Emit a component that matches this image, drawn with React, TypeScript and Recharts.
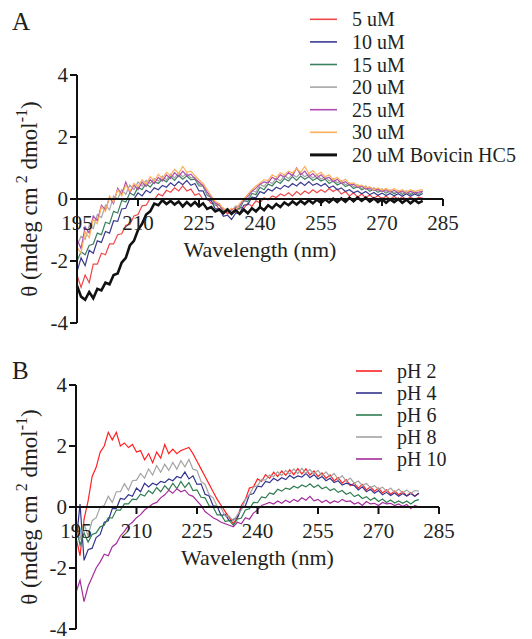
import { LineChart, Line, XAxis, YAxis, ReferenceLine, Legend } from "recharts";

const FONT = "Liberation Serif, Tinos, DejaVu Serif, Times New Roman, serif";
const INK = "#231f20";
const TXT = { fontFamily: FONT };

// wavelength grid (nm)
const WAVELENGTH = [
  195, 196, 197, 198, 199, 200, 201, 202, 203, 204,
  205, 206, 207, 208, 209, 210, 211, 212, 213, 214,
  215, 216, 217, 218, 219, 220, 221, 222, 223, 224,
  225, 226, 227, 228, 229, 230, 231, 232, 233, 234,
  235, 236, 237, 238, 239, 240, 241, 242, 243, 244,
  245, 246, 247, 248, 249, 250, 251, 252, 253, 254,
  255, 256, 257, 258, 259, 260, 261, 262, 263, 264,
  265, 266, 267, 268, 269, 270, 271, 272, 273, 274,
  275, 276, 277, 278, 279, 280,
];

const X_TICKS = [195, 210, 225, 240, 255, 270, 285];
const Y_TICKS = [-4, -2, 0, 2, 4];

// Panel A - concentration series
const A_5UM = [
  -2.45, -2.85, -2.45, -2.7, -2.1, -2.1, -1.75, -1.8, -1.45, -1.45,
  -1.15, -1.12, -0.85, -0.82, -0.55, -0.5, -0.22, -0.2, 0.02, -0.02,
  0.16, 0.1, 0.28, 0.22, 0.36, 0.26, 0.42, 0.26, 0.32, 0.12,
  0.18, -0.02, 0.02, -0.14, -0.14, -0.34, -0.3, -0.48, -0.4, -0.44,
  -0.26, -0.3, -0.14, -0.24, -0.06, -0.12, 0.04, -0.03, 0.1, 0.05,
  0.16, 0.1, 0.2, 0.1, 0.24, 0.14, 0.26, 0.18, 0.3, 0.2,
  0.3, 0.22, 0.34, 0.24, 0.32, 0.16, 0.24, 0.1, 0.2, 0.06,
  0.16, 0.04, 0.13, 0.02, 0.11, 0.01, 0.09, 0.0, 0.08, -0.01,
  0.07, -0.01, 0.06, -0.02, 0.05, 0.03,
];
const A_10UM = [
  -2.35, -1.9, -2.15, -1.65, -1.75, -1.35, -1.4, -1.05, -1.1, -0.7,
  -0.72, -0.32, -0.3, 0.02, 0.0, 0.2, 0.1, 0.28, 0.2, 0.36,
  0.3, 0.44, 0.38, 0.52, 0.42, 0.56, 0.46, 0.6, 0.44, 0.5,
  0.26, 0.26, -0.02, -0.05, -0.32, -0.32, -0.56, -0.52, -0.66, -0.46,
  -0.46, -0.2, -0.18, 0.06, 0.04, 0.24, 0.18, 0.32, 0.26, 0.38,
  0.32, 0.44, 0.38, 0.5, 0.42, 0.54, 0.44, 0.56, 0.44, 0.5,
  0.42, 0.5, 0.36, 0.42, 0.3, 0.36, 0.24, 0.3, 0.2, 0.26,
  0.17, 0.24, 0.14, 0.21, 0.12, 0.19, 0.11, 0.18, 0.1, 0.17,
  0.09, 0.17, 0.09, 0.16, 0.1, 0.18,
];
const A_15UM = [
  -2.0, -1.7, -1.8, -1.5, -1.45, -1.1, -1.15, -0.75, -0.8, -0.4,
  -0.45, -0.05, -0.1, 0.2, 0.12, 0.38, 0.3, 0.5, 0.38, 0.56,
  0.5, 0.64, 0.55, 0.72, 0.6, 0.76, 0.64, 0.74, 0.62, 0.64,
  0.42, 0.42, 0.12, 0.06, -0.2, -0.18, -0.42, -0.34, -0.46, -0.28,
  -0.32, -0.05, -0.08, 0.18, 0.14, 0.38, 0.3, 0.48, 0.42, 0.58,
  0.5, 0.66, 0.58, 0.72, 0.6, 0.74, 0.64, 0.72, 0.6, 0.68,
  0.58, 0.64, 0.5, 0.58, 0.45, 0.52, 0.4, 0.46, 0.34, 0.4,
  0.3, 0.36, 0.25, 0.32, 0.22, 0.28, 0.19, 0.26, 0.17, 0.24,
  0.15, 0.23, 0.14, 0.22, 0.15, 0.24,
];
const A_20UM = [
  -1.5, -1.2, -1.3, -0.85, -0.95, -0.5, -0.6, -0.2, -0.35, 0.1,
  0.0, 0.3, 0.15, 0.45, 0.3, 0.55, 0.42, 0.6, 0.5, 0.66,
  0.58, 0.74, 0.62, 0.8, 0.68, 0.84, 0.72, 0.82, 0.68, 0.7,
  0.48, 0.45, 0.14, 0.08, -0.18, -0.15, -0.38, -0.3, -0.4, -0.22,
  -0.25, 0.02, 0.0, 0.28, 0.22, 0.48, 0.4, 0.58, 0.5, 0.68,
  0.58, 0.76, 0.66, 0.8, 0.7, 0.84, 0.72, 0.8, 0.68, 0.78,
  0.64, 0.72, 0.58, 0.66, 0.52, 0.6, 0.46, 0.52, 0.4, 0.46,
  0.34, 0.42, 0.28, 0.36, 0.25, 0.33, 0.22, 0.3, 0.2, 0.28,
  0.18, 0.27, 0.18, 0.26, 0.17, 0.27,
];
const A_25UM = [
  -1.3, -1.6, -0.9, -1.1, -0.55, -0.7, -0.2, -0.35, 0.05, -0.15,
  0.35, 0.15, 0.55, 0.2, 0.45, 0.3, 0.55, 0.4, 0.62, 0.5,
  0.7, 0.58, 0.78, 0.66, 0.85, 0.72, 0.9, 0.75, 0.8, 0.65,
  0.55, 0.42, 0.22, 0.05, -0.12, -0.2, -0.35, -0.42, -0.35, -0.3,
  -0.2, -0.05, 0.1, 0.25, 0.35, 0.48, 0.55, 0.52, 0.7, 0.62,
  0.78, 0.7, 0.85, 0.75, 1.0, 0.78, 0.9, 0.72, 0.82, 0.68,
  0.78, 0.65, 0.7, 0.56, 0.64, 0.5, 0.56, 0.45, 0.48, 0.38,
  0.42, 0.32, 0.36, 0.28, 0.32, 0.24, 0.3, 0.22, 0.28, 0.2,
  0.26, 0.18, 0.25, 0.2, 0.22, 0.25,
];
const A_30UM = [
  -1.55, -1.75, -1.05, -1.25, -0.65, -0.8, -0.25, -0.4, 0.1, -0.1,
  0.3, 0.1, 0.45, 0.25, 0.5, 0.4, 0.62, 0.48, 0.72, 0.58,
  0.8, 0.66, 0.86, 0.76, 0.96, 0.82, 1.05, 0.86, 0.9, 0.75,
  0.62, 0.5, 0.3, 0.1, -0.08, -0.15, -0.32, -0.4, -0.3, -0.36,
  -0.15, 0.0, 0.15, 0.3, 0.42, 0.52, 0.62, 0.6, 0.78, 0.7,
  0.85, 0.78, 0.9, 0.84, 0.98, 0.86, 1.05, 0.82, 0.92, 0.78,
  0.86, 0.72, 0.78, 0.62, 0.7, 0.56, 0.64, 0.5, 0.52, 0.42,
  0.45, 0.36, 0.4, 0.3, 0.36, 0.28, 0.34, 0.26, 0.34, 0.24,
  0.3, 0.22, 0.3, 0.24, 0.28, 0.3,
];
const A_BOVICIN = [
  -2.8, -3.15, -3.25, -3.0, -3.2, -2.9, -2.95, -2.7, -2.75, -2.45,
  -2.4, -2.05, -1.9, -1.5, -1.35, -1.0, -0.8, -0.5, -0.4, -0.15,
  -0.2, -0.04, -0.16, -0.06, -0.18, -0.08, -0.24, -0.1, -0.22, -0.1,
  -0.24, -0.14, -0.32, -0.26, -0.4, -0.34, -0.46, -0.34, -0.48, -0.36,
  -0.48, -0.34, -0.46, -0.3, -0.4, -0.26, -0.36, -0.2, -0.3, -0.16,
  -0.26, -0.11, -0.2, -0.08, -0.18, -0.06, -0.16, -0.04, -0.14, -0.02,
  -0.12, -0.01, -0.11, 0.01, -0.1, 0.02, -0.09, 0.04, -0.07, 0.05,
  -0.06, 0.04, -0.08, 0.02, -0.1, 0.0, -0.12, -0.01, -0.1, 0.0,
  -0.12, -0.02, -0.14, -0.03, -0.13, -0.06,
];

// Panel B - pH series
const B_PH2 = [
  -1.0, -1.6, -0.4, 0.2, 1.0, 1.3, 1.8, 2.0, 2.45, 2.2,
  2.45, 2.0, 2.1, 1.95, 2.05, 1.8, 1.85, 1.55, 1.75, 1.45,
  1.8, 1.6, 2.05, 1.75, 1.9, 1.75, 1.85, 1.9, 1.95, 1.75,
  1.5, 1.25, 1.0, 0.75, 0.5, 0.25, 0.05, -0.15, -0.35, -0.55,
  -0.35, 0.05, 0.25, 0.62, 0.66, 0.92, 0.84, 1.06, 0.94, 1.14,
  1.0, 1.18, 1.04, 1.22, 1.06, 1.26, 1.08, 1.25, 1.05, 1.18,
  1.0, 1.12, 0.94, 1.05, 0.86, 0.96, 0.78, 0.9, 0.7, 0.78,
  0.62, 0.74, 0.56, 0.66, 0.52, 0.62, 0.46, 0.56, 0.42, 0.52,
  0.4, 0.5, 0.36, 0.47, 0.35, 0.44,
];
const B_PH4 = [
  -1.2, 0.1, -1.75, -1.4, -1.35, -1.0, -0.9, -0.5, -0.45, -0.05,
  -0.05, 0.28, 0.25, 0.4, 0.35, 0.62, 0.5, 0.78, 0.66, 0.78,
  0.72, 0.84, 0.8, 0.92, 0.86, 1.0, 0.95, 1.15, 0.92, 1.02,
  0.74, 0.76, 0.42, 0.36, 0.04, 0.02, -0.28, -0.24, -0.46, -0.4,
  -0.36, -0.05, 0.04, 0.4, 0.44, 0.68, 0.66, 0.84, 0.8, 0.94,
  0.86, 0.96, 0.9, 1.04, 0.94, 1.02, 0.98, 1.1, 0.96, 1.06,
  0.92, 1.0, 0.86, 0.94, 0.8, 0.86, 0.72, 0.78, 0.74, 0.7,
  0.56, 0.66, 0.5, 0.58, 0.45, 0.54, 0.4, 0.48, 0.38, 0.46,
  0.35, 0.44, 0.36, 0.44, 0.35, 0.46,
];
const B_PH6 = [
  -0.6, -1.25, -0.85, -1.15, -0.9, -0.85, -0.65, -0.6, -0.35, -0.36,
  -0.1, -0.1, 0.1, 0.1, 0.26, 0.24, 0.42, 0.36, 0.54, 0.44,
  0.64, 0.5, 0.7, 0.56, 0.78, 0.6, 0.84, 0.64, 0.8, 0.54,
  0.56, 0.32, 0.3, 0.04, 0.0, -0.26, -0.26, -0.48, -0.44, -0.6,
  -0.4, -0.36, -0.1, -0.06, 0.15, 0.14, 0.33, 0.3, 0.46, 0.42,
  0.58, 0.52, 0.62, 0.58, 0.68, 0.62, 0.72, 0.66, 0.76, 0.64,
  0.72, 0.6, 0.66, 0.54, 0.6, 0.48, 0.54, 0.42, 0.48, 0.34,
  0.4, 0.28, 0.34, 0.22, 0.3, 0.18, 0.26, 0.15, 0.23, 0.13,
  0.2, 0.12, 0.2, 0.1, 0.2, 0.24,
];
const B_PH8 = [
  -0.8, -1.05, -0.55, -0.95, -0.45, -0.35, 0.0, 0.05, 0.35, 0.15,
  0.5, 0.5, 0.76, 0.55, 0.86, 0.88, 1.1, 0.95, 1.25, 1.05,
  1.36, 1.14, 1.4, 1.2, 1.46, 1.24, 1.52, 1.32, 1.56, 1.24,
  1.2, 0.84, 0.74, 0.4, 0.3, 0.02, -0.04, -0.3, -0.3, -0.46,
  -0.26, -0.1, 0.25, 0.4, 0.65, 0.7, 0.9, 0.88, 1.05, 1.0,
  1.15, 1.04, 1.2, 1.08, 1.25, 1.1, 1.27, 1.1, 1.23, 1.08,
  1.2, 1.03, 1.15, 0.98, 1.1, 0.9, 1.03, 0.84, 0.95, 0.78,
  0.85, 0.7, 0.77, 0.64, 0.7, 0.58, 0.65, 0.52, 0.62, 0.48,
  0.59, 0.46, 0.56, 0.44, 0.54, 0.52,
];
const B_PH10 = [
  -2.8, -2.4, -3.1, -2.6, -2.3, -2.0, -1.8, -1.55, -1.6, -1.3,
  -1.2, -0.95, -0.8, -0.6, -0.5, -0.35, -0.25, -0.1, 0.0, 0.1,
  0.15, 0.3, 0.4, 0.55, 0.45, 0.6, 0.5, 0.55, 0.4, 0.35,
  0.2, 0.05, -0.15, -0.25, -0.35, -0.42, -0.5, -0.55, -0.6, -0.65,
  -0.5, -0.55, -0.35, -0.4, -0.2, -0.1, 0.05, 0.1, 0.15, 0.1,
  0.2, 0.12, 0.22, 0.15, 0.25, 0.18, 0.3, 0.22, 0.35, 0.2,
  0.25, 0.15, 0.22, 0.12, 0.2, 0.15, 0.25, 0.18, 0.2, 0.1,
  0.15, 0.05, 0.18, 0.1, 0.12, 0.05, 0.15, 0.1, 0.12, 0.05,
  0.1, 0.02, 0.08, -0.05, 0.05, 0.0,
];

type Series = { key: string; name: string; color: string; width: number; values: number[] };

const SERIES_A: Series[] = [
  { key: "c5", name: "5 uM", color: "#f04848", width: 1.2, values: A_5UM },
  { key: "c10", name: "10 uM", color: "#3a3a90", width: 1.2, values: A_10UM },
  { key: "c15", name: "15 uM", color: "#3d8060", width: 1.2, values: A_15UM },
  { key: "c20", name: "20 uM", color: "#a6a6a6", width: 1.2, values: A_20UM },
  { key: "c25", name: "25 uM", color: "#b04cb0", width: 1.2, values: A_25UM },
  { key: "c30", name: "30 uM", color: "#ffb05a", width: 1.2, values: A_30UM },
  { key: "bov", name: "20 uM Bovicin HC5", color: "#111111", width: 2.6, values: A_BOVICIN },
];

const SERIES_B: Series[] = [
  { key: "ph2", name: "pH 2", color: "#ff2222", width: 1.2, values: B_PH2 },
  { key: "ph4", name: "pH 4", color: "#33338f", width: 1.2, values: B_PH4 },
  { key: "ph6", name: "pH 6", color: "#2f7d50", width: 1.2, values: B_PH6 },
  { key: "ph8", name: "pH 8", color: "#a3a3a3", width: 1.2, values: B_PH8 },
  { key: "ph10", name: "pH 10", color: "#a52c9c", width: 1.2, values: B_PH10 },
];

function buildRows(series: Series[]) {
  return WAVELENGTH.map((w, i) => {
    const row: Record<string, number> = { w };
    series.forEach((s) => {
      row[s.key] = s.values[i];
    });
    return row;
  });
}

interface PanelProps {
  letter: string;
  letterTop: number;
  series: Series[];
  top: number;
  height: number;
  margin: { top: number; right: number; bottom: number; left: number };
  yAxisWidth: number;
  legendTop: number;
  legendLeft: number;
  legendRow: number;
  lineLen: number;
}

function Panel({ letter, letterTop, series, top, height, margin, yAxisWidth, legendTop, legendLeft, legendRow, lineLen }: PanelProps) {
  const rows = buildRows(series);
  const plotH = height - margin.top - margin.bottom - 1;
  const zeroY = margin.top + plotH / 2;

  const xTick = (props: any) => {
    const { x, payload } = props;
    return (
      <g>
        <line x1={x} x2={x} y1={zeroY} y2={zeroY + 7} stroke="#111" strokeWidth={2} />
        <text x={x} y={zeroY + 31} textAnchor="middle" fontSize={21} style={TXT} fill={INK}>
          {payload.value}
        </text>
      </g>
    );
  };

  const yLabel = (props: any) => {
    const vb = props.viewBox || { y: margin.top, height: plotH };
    const cy = vb.y + vb.height / 2;
    return (
      <text
        transform={`translate(29, ${cy}) rotate(-90)`}
        textAnchor="middle"
        dominantBaseline="central"
        fontSize={23}
        style={TXT}
        fill={INK}
      >
        θ (mdeg cm
        <tspan dy={-8} fontSize={16}> 2</tspan>
        <tspan dy={8}> dmol</tspan>
        <tspan dy={-8} fontSize={16}>-1</tspan>
        <tspan dy={8}>)</tspan>
      </text>
    );
  };

  const legendContent = () => (
    <svg width={240} height={series.length * legendRow + 4}>
      {series.map((s, i) => {
        const cy = legendRow / 2 + i * legendRow;
        return (
          <g key={s.key}>
            <line x1={5} x2={5 + lineLen} y1={cy} y2={cy} stroke={s.color} strokeWidth={s.width > 2 ? 3 : 1.6} />
            <text x={lineLen + 20} y={cy} dominantBaseline="central" fontSize={20} style={TXT} fill={INK}>
              {s.name}
            </text>
          </g>
        );
      })}
    </svg>
  );

  return (
    <div style={{ position: "absolute", left: 0, top, width: 532, height, fontFamily: FONT }}>
      <div style={{ position: "absolute", left: 12, top: letterTop, fontSize: 25, fontFamily: FONT, color: INK, lineHeight: "28px" }}>
        {letter}
      </div>
      <LineChart width={532} height={height} data={rows} margin={margin} style={TXT}>
        <XAxis
          dataKey="w"
          type="number"
          domain={[195, 285]}
          ticks={X_TICKS}
          interval={0}
          axisLine={false}
          tickLine={false}
          height={1}
          tick={xTick}
        />
        <YAxis
          type="number"
          domain={[-4, 4]}
          ticks={Y_TICKS}
          interval={0}
          width={yAxisWidth}
          axisLine={{ stroke: "#111", strokeWidth: 2 }}
          tickLine={{ stroke: "#111", strokeWidth: 2 }}
          tickSize={7}
          tickMargin={2}
          tick={{ fontSize: 21, fill: INK, style: TXT }}
          label={yLabel}
        />
        <Legend
          layout="vertical"
          align="center"
          verticalAlign="middle"
          wrapperStyle={{ top: legendTop, left: legendLeft, width: 240 }}
          content={legendContent}
        />
        {series.map((s) => (
          <Line
            key={s.key}
            dataKey={s.key}
            name={s.name}
            type="linear"
            stroke={s.color}
            strokeWidth={s.width}
            dot={false}
            activeDot={false}
            isAnimationActive={false}
          />
        ))}
        <ReferenceLine
          y={0}
          stroke="#111"
          strokeWidth={2}
          label={(p: any) => {
            const vb = p.viewBox;
            return (
              <text x={vb.x + vb.width / 2} y={zeroY + 58} textAnchor="middle" fontSize={22} style={TXT} fill={INK}>
                Wavelength (nm)
              </text>
            );
          }}
        />
      </LineChart>
    </div>
  );
}

export default function App() {
  return (
    <div style={{ position: "absolute", left: 0, top: 0, width: 532, height: 639, background: "#fff", overflow: "hidden", fontFamily: FONT }}>
      <Panel
        letter="A"
        letterTop={8}
        series={SERIES_A}
        top={0}
        height={335}
        margin={{ top: 75, right: 89, bottom: 11, left: 0 }}
        yAxisWidth={77}
        legendTop={8}
        legendLeft={305}
        legendRow={22.6}
        lineLen={27}
      />
      <Panel
        letter="B"
        letterTop={48}
        series={SERIES_B}
        top={309}
        height={329}
        margin={{ top: 76, right: 93, bottom: 8, left: 0 }}
        yAxisWidth={76}
        legendTop={51}
        legendLeft={351}
        legendRow={22}
        lineLen={26}
      />
    </div>
  );
}
